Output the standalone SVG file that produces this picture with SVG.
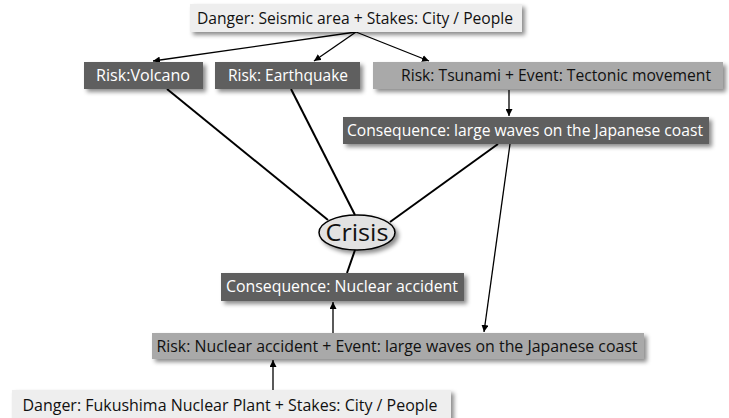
<svg xmlns="http://www.w3.org/2000/svg" width="729" height="418" viewBox="0 0 729 418">
<defs>
<filter id="sh" x="-10%" y="-30%" width="120%" height="170%">
<feDropShadow dx="3" dy="3" stdDeviation="2.2" flood-color="#000" flood-opacity="0.45"/>
</filter>
<marker id="ah" viewBox="0 0 10 10" refX="10" refY="5" markerWidth="7" markerHeight="7" markerUnits="userSpaceOnUse" orient="auto">
<path d="M0,0 L10,5 L0,10 z" fill="#000"/>
</marker>
</defs>
<style>
text{font-family:"Open Sans","Noto Sans","Liberation Sans",sans-serif;font-size:16px;text-anchor:middle}
.light{fill:#eeeeee}
.mid{fill:#a9a9a9}
.dark{fill:#5f5f5f}
.tw{fill:#ffffff}
.tb{fill:#111111}
.ln{stroke:#000;stroke-width:2;fill:none}
.ar{stroke:#000;stroke-width:1.3;fill:none;marker-end:url(#ah)}
</style>
<g id="connectors">
<line class="ar" x1="356" y1="32" x2="153" y2="61"/>
<line class="ar" x1="356" y1="32" x2="314" y2="61"/>
<line class="ar" x1="356" y1="32" x2="429" y2="61"/>
<line class="ar" x1="509" y1="90" x2="509" y2="116"/>
<line class="ln" x1="167" y1="89" x2="328" y2="220"/>
<line class="ln" x1="291" y1="89" x2="355" y2="215"/>
<line class="ln" x1="498" y1="144" x2="390" y2="222"/>
<line class="ln" x1="355" y1="250" x2="347" y2="273"/>
<line class="ar" x1="510" y1="144" x2="484" y2="332"/>
<line class="ar" x1="333" y1="333" x2="333" y2="302"/>
<line class="ar" x1="273" y1="390" x2="273" y2="360"/>
</g>
<g id="n_danger_seismic">
<rect class="light" x="190" y="4" width="332" height="28" filter="url(#sh)"/>
<text class="tb" x="355" y="24" textLength="316" lengthAdjust="spacingAndGlyphs">Danger: Seismic area + Stakes: City / People</text>
</g>
<g id="n_volcano">
<rect class="dark" x="84" y="62" width="119" height="27" filter="url(#sh)"/>
<text class="tw" x="143" y="81" textLength="94" lengthAdjust="spacingAndGlyphs">Risk:Volcano</text>
</g>
<g id="n_earthquake">
<rect class="dark" x="215" y="62" width="145" height="27" filter="url(#sh)"/>
<text class="tw" x="288" y="81" textLength="120" lengthAdjust="spacingAndGlyphs">Risk: Earthquake</text>
</g>
<g id="n_tsunami">
<rect class="mid" x="373" y="62" width="350" height="27" filter="url(#sh)"/>
<text class="tb" x="556" y="81" textLength="310" lengthAdjust="spacingAndGlyphs">Risk: Tsunami + Event: Tectonic movement</text>
</g>
<g id="n_waves">
<rect class="dark" x="343" y="117" width="366" height="27" filter="url(#sh)"/>
<text class="tw" x="525" y="136" textLength="356" lengthAdjust="spacingAndGlyphs">Consequence: large waves on the Japanese coast</text>
</g>
<g id="n_crisis">
<ellipse cx="357" cy="232.5" rx="38" ry="17.5" fill="#e2e2e2" stroke="#000" stroke-width="1.5" filter="url(#sh)"/>
<text class="tb" x="357" y="241" style="font-size:24px" textLength="63" lengthAdjust="spacingAndGlyphs">Crisis</text>
</g>
<g id="n_nuclear_consequence">
<rect class="dark" x="221" y="273" width="243" height="28" filter="url(#sh)"/>
<text class="tw" x="342" y="292" textLength="232" lengthAdjust="spacingAndGlyphs">Consequence: Nuclear accident</text>
</g>
<g id="n_nuclear_risk">
<rect class="mid" x="152" y="333" width="492" height="26" filter="url(#sh)"/>
<text class="tb" x="397" y="352" textLength="481" lengthAdjust="spacingAndGlyphs">Risk: Nuclear accident + Event: large waves on the Japanese coast</text>
</g>
<g id="n_danger_fukushima">
<rect class="light" x="12" y="390" width="439" height="32" filter="url(#sh)"/>
<text class="tb" x="230" y="411" textLength="415" lengthAdjust="spacingAndGlyphs">Danger: Fukushima Nuclear Plant + Stakes: City / People</text>
</g>
</svg>
